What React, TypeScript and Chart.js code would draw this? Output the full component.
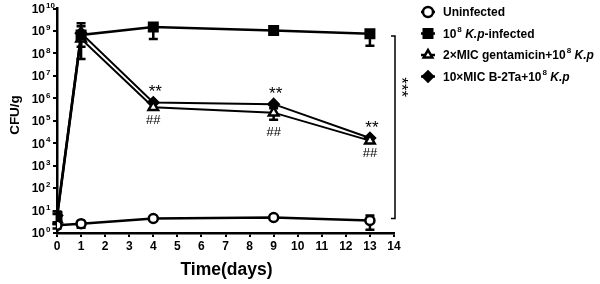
import React, { useEffect, useRef } from 'react';
import { Chart, registerables } from 'chart.js';
import { drawPoint } from 'chart.js/helpers';

Chart.register(...registerables);

// ---- data ----
const days = [0, 1, 4, 9, 13];
const xTicks = [0, 1, 2, 3, 4, 5, 6, 7, 8, 9, 10, 11, 12, 13, 14];
const yExponents = [0, 1, 2, 3, 4, 5, 6, 7, 8, 9, 10];

const uninfected = [2.2, 2.6, 4.4, 4.9, 3.6];
const kpInfected = [5.5, 6.6e8, 1.5e9, 1.05e9, 7.5e8];
const gentamicin = [4, 4.5e8, 4.0e5, 2.3e5, 1.3e4];
const b2ta = [6, 8e8, 6.5e5, 5.5e5, 1.7e4];

const uninfectedErr: (number[] | null)[] = [[1.6, 3], [1.7, 3.2], null, null, [1.4, 6]];
const kpInfectedErr: (number[] | null)[] = [[2.5, 9], [5.6e7, 2.2e9], [4.4e8, 1.5e9], null, [2.2e8, 7.5e8]];
const gentamicinErr: (number[] | null)[] = [[2.5, 7], null, null, [1.1e5, 3.6e5], null];
const b2taErr: (number[] | null)[] = [null, [2e8, 1.6e9], null, null, null];

const starDays = [4, 9, 13];
const starLabel = '**';
const hashLabel = '##';
const bracketRange = [6e8, 4.4];
const bracketLabel = '***';

const legendItems = [
  { parts: [{ t: 'Uninfected' }], style: 'circle', fill: '#fff' },
  { parts: [{ t: '10' }, { t: '8', sup: true }, { t: ' ' }, { t: 'K.p', it: true }, { t: '-infected' }], style: 'rect', fill: '#000' },
  { parts: [{ t: '2×MIC gentamicin+10' }, { t: '8', sup: true }, { t: ' ' }, { t: 'K.p', it: true }], style: 'triangle', fill: '#fff' },
  { parts: [{ t: '10×MIC B-2Ta+10' }, { t: '8', sup: true }, { t: ' ' }, { t: 'K.p', it: true }], style: 'rectRot', fill: '#000' },
];

const FONT = '"Liberation Sans", Arial, sans-serif';

const customPlugin = {
  id: 'custom',
  beforeDatasetsDraw(chart: any) {
    const { ctx, scales } = chart;
    const x = scales.x, y = scales.y;
    ctx.save();
    ctx.strokeStyle = '#000';
    ctx.lineWidth = 2.5;
    [uninfectedErr, kpInfectedErr, gentamicinErr, b2taErr].forEach((errs) => {
      errs.forEach((e, i) => {
        if (!e) return;
        const px = x.getPixelForValue(days[i]);
        const y1 = y.getPixelForValue(e[0]);
        const y2 = y.getPixelForValue(e[1]);
        ctx.beginPath();
        ctx.moveTo(px, y1); ctx.lineTo(px, y2);
        ctx.moveTo(px - 4.5, y1); ctx.lineTo(px + 4.5, y1);
        ctx.moveTo(px - 4.5, y2); ctx.lineTo(px + 4.5, y2);
        ctx.stroke();
      });
    });
    ctx.restore();
  },
  afterDraw(chart: any) {
    const { ctx, scales, chartArea } = chart;
    const x = scales.x, y = scales.y;
    ctx.save();
    ctx.fillStyle = '#000';
    // y tick labels 10^n
    ctx.textBaseline = 'middle';
    yExponents.forEach((n) => {
      const py = y.getPixelForValue(Math.pow(10, n));
      ctx.font = `bold 12px ${FONT}`;
      ctx.textAlign = 'right';
      ctx.fillText('10', chartArea.left - 12, py + 1);
      ctx.font = `bold 8px ${FONT}`;
      ctx.textAlign = 'left';
      ctx.fillText(String(n), chartArea.left - 11, py - 3);
    });
    // axis titles
    ctx.font = `bold 17.5px ${FONT}`;
    ctx.textAlign = 'center';
    ctx.fillText('Time(days)', (chartArea.left + chartArea.right) / 2 + 1, 270);
    ctx.save();
    ctx.translate(15, 115);
    ctx.rotate(-Math.PI / 2);
    ctx.font = `bold 13.5px ${FONT}`;
    ctx.fillText('CFU/g', 0, 0);
    ctx.restore();
    // significance marks
    starDays.forEach((d) => {
      const i = days.indexOf(d);
      const px = x.getPixelForValue(d);
      const top = y.getPixelForValue(Math.max(b2ta[i], gentamicinErr[i] ? gentamicinErr[i]![1] : 0));
      const bot = y.getPixelForValue(Math.min(gentamicin[i], gentamicinErr[i] ? gentamicinErr[i]![0] : Infinity));
      ctx.font = `17px ${FONT}`;
      ctx.fillText(starLabel, px + 2, top - 10);
      ctx.font = `13px ${FONT}`;
      ctx.fillText(hashLabel, px, bot + 13);
    });
    // bracket
    const bx = x.getPixelForValue(14) + 1;
    const by1 = y.getPixelForValue(bracketRange[0]);
    const by2 = y.getPixelForValue(bracketRange[1]);
    ctx.strokeStyle = '#000';
    ctx.lineWidth = 1.5;
    ctx.beginPath();
    ctx.moveTo(bx - 4, by1); ctx.lineTo(bx, by1); ctx.lineTo(bx, by2); ctx.lineTo(bx - 4, by2);
    ctx.stroke();
    ctx.save();
    ctx.translate(bx + 6, (by1 + by2) / 2 - 40);
    ctx.rotate(Math.PI / 2);
    ctx.font = `17px ${FONT}`;
    ctx.fillText(bracketLabel, 0, 0);
    ctx.restore();
    // legend
    legendItems.forEach((item, k) => {
      const cy = 12 + k * 21.5;
      const mx = 428;
      ctx.lineWidth = 2.5;
      ctx.beginPath();
      ctx.moveTo(mx - 7, cy); ctx.lineTo(mx + 7, cy);
      ctx.stroke();
      ctx.fillStyle = item.fill;
      ctx.strokeStyle = '#000';
      drawPoint(ctx, { pointStyle: item.style as any, radius: item.style === 'rect' ? 6 : 5, borderWidth: 2.5, rotation: 0 } as any, mx, cy);
      ctx.fillStyle = '#000';
      let tx = 443;
      ctx.textAlign = 'left';
      item.parts.forEach((p: any) => {
        if (p.sup) {
          ctx.font = `bold 8px ${FONT}`;
          ctx.fillText(p.t, tx + 1, cy - 4);
          tx += ctx.measureText(p.t).width + 1;
        } else {
          ctx.font = `${p.it ? 'italic ' : ''}bold 12px ${FONT}`;
          ctx.fillText(p.t, tx, cy + 1);
          tx += ctx.measureText(p.t).width;
        }
      });
    });
    ctx.restore();
  },
};

function mk(data: number[]) {
  return days.map((d, i) => ({ x: d, y: data[i] }));
}

export default function App() {
  const ref = useRef<HTMLCanvasElement>(null);
  useEffect(() => {
    if (!ref.current) return;
    const common = { borderColor: '#000', borderWidth: 2.5, pointBorderColor: '#000', pointBorderWidth: 2.5, tension: 0, showLine: true };
    const chart = new Chart(ref.current, {
      type: 'scatter',
      data: {
        datasets: [
          { ...common, label: 'Uninfected', data: mk(uninfected), pointStyle: 'circle', pointRadius: 4.5, pointBackgroundColor: '#fff' },
          { ...common, label: 'Kp', data: mk(kpInfected), pointStyle: 'rect', pointRadius: 6, pointBackgroundColor: '#000' },
          { ...common, borderWidth: 2, label: 'Gent', data: mk(gentamicin), pointStyle: 'triangle', pointRadius: 5.5, pointBackgroundColor: '#fff' },
          { ...common, borderWidth: 2, label: 'B2Ta', data: mk(b2ta), pointStyle: 'rectRot', pointRadius: 5, pointBackgroundColor: '#000' },
        ],
      } as any,
      options: {
        animation: false,
        responsive: false,
        devicePixelRatio: 1,
        layout: { padding: { top: 7, right: 206, left: 0, bottom: 0 } },
        plugins: { legend: { display: false }, tooltip: { enabled: false } },
        scales: {
          x: {
            type: 'linear',
            min: 0,
            max: 14,
            afterBuildTicks: (s: any) => { s.ticks = xTicks.map((v) => ({ value: v })); },
            afterFit: (s: any) => { s.height = 51; },
            ticks: { color: '#000', font: { family: FONT, weight: 'bold', size: 12 }, padding: 2, autoSkip: false, maxRotation: 0 },
            grid: { display: true, drawOnChartArea: false, drawTicks: true, tickLength: 4, color: '#000', lineWidth: 2 },
            border: { display: true, color: '#000', width: 2.5 },
          },
          y: {
            type: 'logarithmic',
            min: 1,
            max: 1e10,
            afterBuildTicks: (s: any) => { s.ticks = yExponents.map((n) => ({ value: Math.pow(10, n) })); },
            afterFit: (s: any) => { s.width = 57; },
            ticks: { display: false, autoSkip: false },
            grid: { display: true, drawOnChartArea: false, drawTicks: true, tickLength: 4, color: '#000', lineWidth: 2 },
            border: { display: true, color: '#000', width: 2.5 },
          },
        },
      } as any,
      plugins: [customPlugin],
    });
    return () => chart.destroy();
  }, []);
  return (
    <div style={{ position: 'fixed', left: 0, top: 0, width: 600, height: 284, background: '#fff' }}>
      <canvas ref={ref} width={600} height={284} style={{ width: 600, height: 284 }} />
    </div>
  );
}
